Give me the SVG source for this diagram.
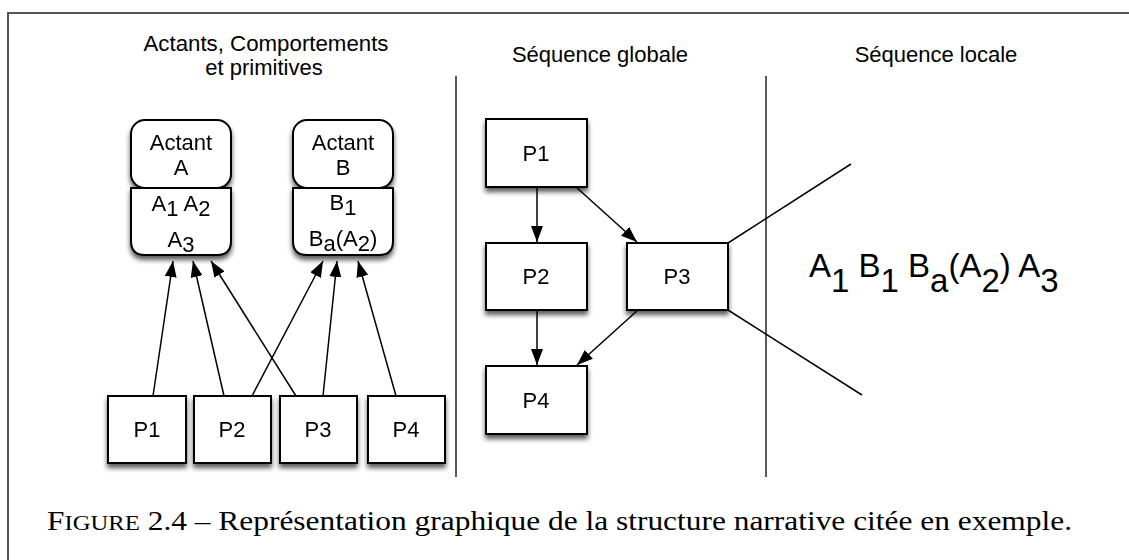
<svg xmlns="http://www.w3.org/2000/svg" width="1129" height="560" viewBox="0 0 1129 560">
  <style>
    .box { fill: #ffffff; stroke: #000000; stroke-width: 2; }
    .lbl { font-family: "Liberation Sans", Arial, sans-serif; font-size: 22px; fill: #000; text-anchor: middle; }
    .hdr { font-family: "Liberation Sans", Arial, sans-serif; font-size: 22px; fill: #000; text-anchor: middle; }
    .seq { font-family: "Liberation Sans", Arial, sans-serif; font-size: 33px; fill: #000; }
    .cap { font-family: "Liberation Serif", "Times New Roman", serif; font-size: 28px; fill: #000; }
    .edge { stroke: #000; stroke-width: 1.5; fill: none; }
    .arr { marker-end: url(#ah); }
    .sep { stroke: #000; stroke-width: 1.3; }
  </style>
  <defs>
    <marker id="ah" markerUnits="userSpaceOnUse" markerWidth="17" markerHeight="13" refX="16" refY="6" orient="auto">
      <path d="M0,0 L16,6 L0,12 z" fill="#000"/>
    </marker>
    <filter id="sh" x="-20%" y="-20%" width="140%" height="150%">
      <feDropShadow dx="0" dy="4" stdDeviation="2.5" flood-color="#000" flood-opacity="0.65"/>
    </filter>
  </defs>
  <rect x="0" y="0" width="1129" height="560" fill="#fff"/>
  <!-- frame -->
  <path d="M8,560 L8,13 L1129,13" fill="none" stroke="#555" stroke-width="2"/>

  <!-- headers -->
  <g id="headers">
    <text class="hdr" x="266" y="51" textLength="245" lengthAdjust="spacingAndGlyphs">Actants, Comportements</text>
    <text class="hdr" x="264" y="75">et primitives</text>
    <text class="hdr" x="600" y="62">Séquence globale</text>
    <text class="hdr" x="936" y="62">Séquence locale</text>
  </g>

  <!-- separators -->
  <line class="sep" x1="456" y1="76" x2="456" y2="477"/>
  <line class="sep" x1="766" y1="76" x2="766" y2="477"/>

  <!-- connectors -->
  <g id="connectors">
    <line class="edge arr" x1="153" y1="396" x2="173" y2="261"/>
    <line class="edge arr" x1="224" y1="396" x2="193" y2="261"/>
    <line class="edge arr" x1="296" y1="396" x2="211" y2="261"/>
    <line class="edge arr" x1="252" y1="396" x2="323" y2="261"/>
    <line class="edge arr" x1="323" y1="396" x2="337" y2="261"/>
    <line class="edge arr" x1="396" y1="396" x2="358" y2="261"/>
    <line class="edge arr" x1="537" y1="187" x2="537" y2="242"/>
    <line class="edge arr" x1="576" y1="187" x2="637" y2="242"/>
    <line class="edge arr" x1="537" y1="310" x2="537" y2="365"/>
    <line class="edge arr" x1="638" y1="310" x2="577" y2="365"/>
    <line class="edge" x1="728" y1="243" x2="851" y2="164"/>
    <line class="edge" x1="728" y1="310" x2="862" y2="395"/>
  </g>

  <!-- Actant A -->
  <g id="actantA" filter="url(#sh)">
    <path class="box" d="M131,188 L231,188 L231,241 Q231,255 217,255 L145,255 Q131,255 131,241 Z"/>
    <rect class="box" x="131" y="120" width="100" height="68" rx="14" ry="14"/>
    <text class="lbl" x="181" y="150">Actant</text>
    <text class="lbl" x="181" y="175">A</text>
    <text class="lbl" x="181" y="211">A<tspan dy="5">1</tspan> <tspan dy="-5">A</tspan><tspan dy="5">2</tspan></text>
    <text class="lbl" x="181" y="247">A<tspan dy="5">3</tspan></text>
  </g>

  <!-- Actant B -->
  <g id="actantB" filter="url(#sh)">
    <path class="box" d="M293,188 L393,188 L393,241 Q393,255 379,255 L307,255 Q293,255 293,241 Z"/>
    <rect class="box" x="293" y="120" width="100" height="68" rx="14" ry="14"/>
    <text class="lbl" x="343" y="150">Actant</text>
    <text class="lbl" x="343" y="175">B</text>
    <text class="lbl" x="343" y="210">B<tspan dy="5">1</tspan></text>
    <text class="lbl" x="343" y="246">B<tspan dy="5">a</tspan><tspan dy="-5">(A</tspan><tspan dy="5">2</tspan><tspan dy="-5">)</tspan></text>
  </g>

  <!-- bottom primitives -->
  <g id="prim1" filter="url(#sh)">
    <rect class="box" x="108" y="396" width="78" height="67"/>
    <text class="lbl" x="147" y="437">P1</text>
  </g>
  <g id="prim2" filter="url(#sh)">
    <rect class="box" x="194" y="396" width="77" height="67"/>
    <text class="lbl" x="232" y="437">P2</text>
  </g>
  <g id="prim3" filter="url(#sh)">
    <rect class="box" x="280" y="396" width="77" height="67"/>
    <text class="lbl" x="318" y="437">P3</text>
  </g>
  <g id="prim4" filter="url(#sh)">
    <rect class="box" x="368" y="396" width="77" height="67"/>
    <text class="lbl" x="406" y="437">P4</text>
  </g>

  <!-- global sequence -->
  <g id="gP1" filter="url(#sh)">
    <rect class="box" x="486" y="119" width="101" height="68"/>
    <text class="lbl" x="536" y="161">P1</text>
  </g>
  <g id="gP2" filter="url(#sh)">
    <rect class="box" x="486" y="243" width="101" height="67"/>
    <text class="lbl" x="536" y="284">P2</text>
  </g>
  <g id="gP3" filter="url(#sh)">
    <rect class="box" x="627" y="243" width="101" height="67"/>
    <text class="lbl" x="677" y="284">P3</text>
  </g>
  <g id="gP4" filter="url(#sh)">
    <rect class="box" x="486" y="366" width="101" height="68"/>
    <text class="lbl" x="536" y="408">P4</text>
  </g>

  <!-- local sequence -->
  <g id="localSeq">
    <text class="seq" x="809" y="277">A<tspan dy="15">1</tspan><tspan dy="-15"> B</tspan><tspan dy="15">1</tspan><tspan dy="-15"> B</tspan><tspan dy="15">a</tspan><tspan dy="-15">(A</tspan><tspan dy="15">2</tspan><tspan dy="-15">) A</tspan><tspan dy="15">3</tspan></text>
  </g>

  <!-- caption -->
  <text class="cap" x="47" y="530" textLength="1025" lengthAdjust="spacingAndGlyphs">F<tspan font-size="22">IGURE</tspan> 2.4 – Représentation graphique de la structure narrative citée en exemple.</text>
</svg>
